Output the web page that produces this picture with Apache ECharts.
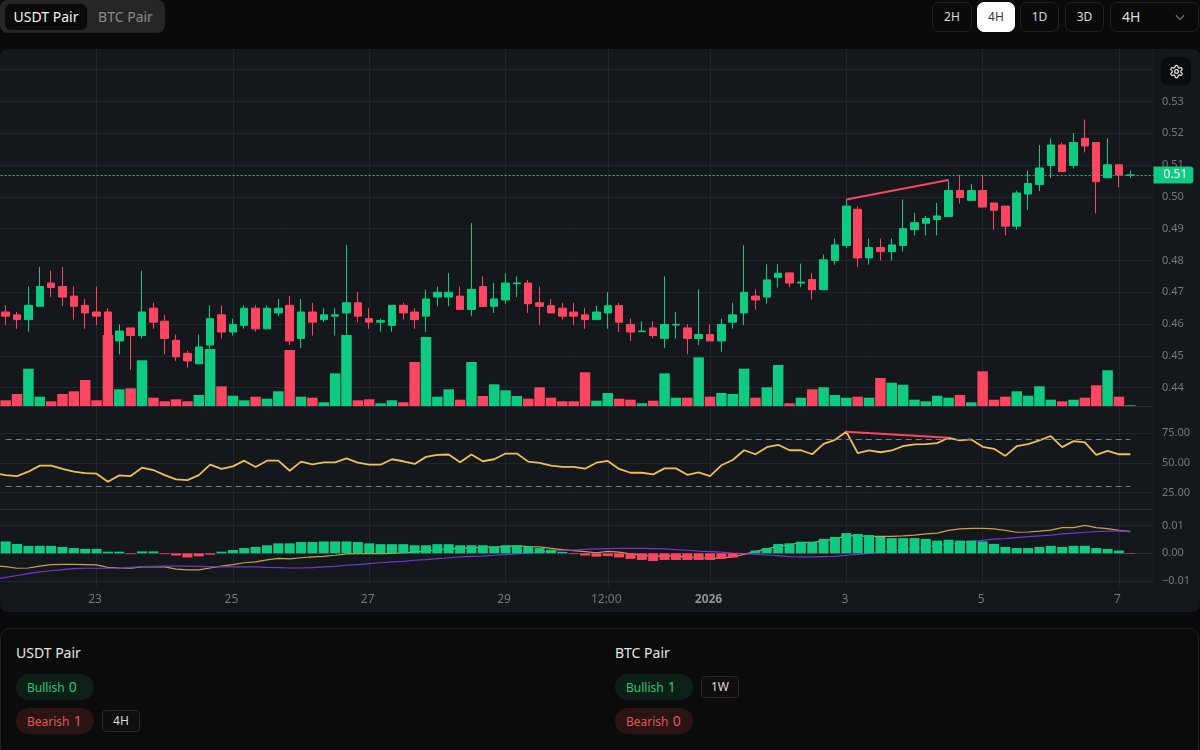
<!DOCTYPE html>
<html>
<head>
<meta charset="utf-8">
<title>USDT Pair</title>
<script src="https://cdn.jsdelivr.net/npm/echarts@6/dist/echarts.min.js"></script>
<style>
html, body { margin: 0; padding: 0; width: 1200px; height: 750px; overflow: hidden; background: #0a0a0a; font-family: "Noto Sans", sans-serif; color: #e8e8e8; }
.abs { position: absolute; box-sizing: border-box; }
#pair-tabs { left: 0; top: 0; width: 165px; height: 33px; background: #262626; border-radius: 8px; }
.tab { position: absolute; top: 4px; height: 26px; line-height: 26px; font-size: 14px; text-align: center; border-radius: 6px; }
.tf { top: 2px; height: 30px; line-height: 28px; font-size: 12px; text-align: center; border: 1px solid #222; border-radius: 7px; color: #dcdcdc; }
.tf.on { background: #fff; color: #333; border-color: #fff; }
#panel { left: 0; top: 49px; width: 1200px; height: 563px; background: #14171c; border-radius: 8px; overflow: hidden; }
#chart { position: absolute; left: -12px; top: 0; width: 1212px; height: 563px; }
#gear { left: 1161px; top: 57px; width: 30px; height: 28px; background: #0c0c0e; border-radius: 6px; text-align: center; padding-top: 5px; }
#card { left: 0; top: 628px; width: 1199px; height: 130px; background: #0b0b0b; border: 1px solid #222; border-radius: 10px; }
.pair-title { font-size: 14px; line-height: 20px; color: #e6e6e6; }
.pill { height: 26px; line-height: 26px; width: 78px; border-radius: 13px; font-size: 12px; padding-left: 11px; white-space: nowrap; }
.pill b { font-weight: 400; font-size: 14px; margin-left: 1px; }
.bull { background: #0d2018; color: #35c06f; }
.bear { background: #2a1414; color: #e0585e; }
.badge { height: 22px; line-height: 20px; width: 38px; border: 1px solid #2a2a2a; border-radius: 4px; font-size: 12px; text-align: center; color: #dcdcdc; background: #0e0e0e; }
</style>
</head>
<body>
<div id="pair-tabs" class="abs">
	<div class="tab" style="left:5px;width:82px;background:#0a0a0a;color:#f2f2f2;">USDT Pair</div>
	<div class="tab" style="left:89px;width:73px;color:#8a8a8a;">BTC Pair</div>
</div>
<div class="abs tf" style="left:932px;width:40px;">2H</div>
<div class="abs tf on" style="left:977px;width:38px;">4H</div>
<div class="abs tf" style="left:1020px;width:39px;">1D</div>
<div class="abs tf" style="left:1065px;width:39px;">3D</div>
<div class="abs tf" style="left:1110px;width:89px;font-size:14px;text-align:left;padding-left:11px;">4H
	<svg style="position:absolute;left:62px;top:7px;" width="14" height="14" viewBox="0 0 24 24" fill="none" stroke="#777" stroke-width="2"><path d="M5 9l7 7 7-7"/></svg>
</div>
<div id="panel" class="abs"><div id="chart"></div></div>
<div id="gear" class="abs">
	<svg width="15" height="15" viewBox="0 0 24 24" fill="none" stroke="#e8e8e8" stroke-width="2"><path d="M12.22 2h-.44a2 2 0 0 0-2 2v.18a2 2 0 0 1-1 1.73l-.43.25a2 2 0 0 1-2 0l-.15-.08a2 2 0 0 0-2.73.73l-.22.38a2 2 0 0 0 .73 2.73l.15.1a2 2 0 0 1 1 1.72v.51a2 2 0 0 1-1 1.74l-.15.09a2 2 0 0 0-.73 2.73l.22.38a2 2 0 0 0 2.73.73l.15-.08a2 2 0 0 1 2 0l.43.25a2 2 0 0 1 1 1.73V20a2 2 0 0 0 2 2h.44a2 2 0 0 0 2-2v-.18a2 2 0 0 1 1-1.73l.43-.25a2 2 0 0 1 2 0l.15.08a2 2 0 0 0 2.73-.73l.22-.39a2 2 0 0 0-.73-2.73l-.15-.08a2 2 0 0 1-1-1.74v-.5a2 2 0 0 1 1-1.74l.15-.09a2 2 0 0 0 .73-2.73l-.22-.38a2 2 0 0 0-2.73-.73l-.15.08a2 2 0 0 1-2 0l-.43-.25a2 2 0 0 1-1-1.73V4a2 2 0 0 0-2-2z"/><circle cx="12" cy="12" r="3"/></svg>
</div>
<div id="card" class="abs"></div>
<div class="abs pair-title" style="left:16px;top:643px;">USDT Pair</div>
<div class="abs pill bull" style="left:16px;top:674px;">Bullish <b>0</b></div>
<div class="abs pill bear" style="left:16px;top:708px;">Bearish <b>1</b></div>
<div class="abs badge" style="left:102px;top:710px;">4H</div>
<div class="abs pair-title" style="left:615px;top:643px;">BTC Pair</div>
<div class="abs pill bull" style="left:615px;top:674px;">Bullish <b>1</b></div>
<div class="abs badge" style="left:701px;top:676px;">1W</div>
<div class="abs pill bear" style="left:615px;top:708px;">Bearish <b>0</b></div>
<script>
// 4H candles, first one is 12-21 16:00
var opens = [.4638,.4629,.4614,.4656,.4729,.4718,.4688,.4659,.4638,.4638,
	.4547,.4588,.4564,.4650,.4609,.4549,.4508,.4475,.4534,.4629,
	.4575,.4596,.4650,.4585,.4635,.4659,.4555,.4638,.4614,.4625,
	.4635,.4667,.4617,.4606,.4596,.4659,.4638,.4625,.4685,.4685,
	.4688,.4646,.4718,.4656,.4676,.4727,.4729,.4667,.4658,.4650,
	.4638,.4629,.4614,.4635,.4658,.4599,.4576,.4588,.4555,.4597,
	.4588,.4555,.4567,.4547,.4606,.4635,.4688,.4685,.4747,.4761,
	.4729,.4740,.4708,.4800,.4847,.4961,.4808,.4841,.4828,.4847,
	.4897,.4917,.4929,.4938,.5020,.4989,.5020,.4981,.4971,.4908,
	.5009,.5039,.5099,.5163,.5099,.5184,.5171,.5060,.5101,.5068];
var closes = [.4625,.4614,.4659,.4718,.4715,.4685,.4656,.4635,.4625,.4563,
	.4578,.4564,.4638,.4606,.4555,.4497,.4484,.4528,.4617,.4575,
	.4599,.4650,.4585,.4650,.4650,.4547,.4638,.4606,.4629,.4629,
	.4667,.4625,.4606,.4611,.4659,.4635,.4614,.4679,.4700,.4700,
	.4646,.4709,.4655,.4679,.4729,.4729,.4664,.4656,.4635,.4625,
	.4625,.4614,.4638,.4658,.4606,.4575,.4578,.4564,.4599,.4599,
	.4555,.4567,.4547,.4599,.4629,.4700,.4676,.4739,.4760,.4729,
	.4732,.4708,.4802,.4849,.4971,.4808,.4841,.4828,.4849,.4900,
	.4919,.4932,.4940,.5020,.4998,.5020,.4968,.4958,.4908,.5012,
	.5042,.5091,.5163,.5080,.5171,.5160,.5048,.5101,.5069,.5069];
var lows = [.4597,.4585,.4576,.4656,.4685,.4656,.4614,.4585,.4597,.4563,
	.4505,.4456,.4555,.4585,.4505,.4484,.4463,.4475,.4523,.4555,
	.4564,.4585,.4576,.4585,.4625,.4534,.4525,.4564,.4606,.4564,
	.4567,.4606,.4585,.4576,.4576,.4614,.4585,.4575,.4656,.4656,
	.4646,.4625,.4655,.4635,.4664,.4685,.4635,.4597,.4635,.4614,
	.4597,.4585,.4614,.4585,.4575,.4547,.4576,.4555,.4525,.4555,
	.4505,.4534,.4547,.4513,.4585,.4597,.4646,.4664,.4715,.4716,
	.4716,.4677,.4708,.4787,.4839,.4779,.4787,.4800,.4800,.4828,
	.4879,.4879,.4879,.4938,.4979,.4989,.4968,.4897,.4879,.4897,
	.4958,.5018,.5059,.5080,.5089,.5140,.4948,.5060,.5030,.5060];
var highs = [.4659,.4638,.4718,.4780,.4768,.4780,.4718,.4679,.4718,.4650,
	.4599,.4588,.4768,.4667,.4629,.4567,.4516,.4567,.4659,.4659,
	.4617,.4659,.4659,.4659,.4679,.4688,.4679,.4667,.4650,.4650,
	.4849,.4700,.4650,.4617,.4659,.4667,.4650,.4709,.4718,.4760,
	.4718,.4918,.4750,.4729,.4760,.4750,.4739,.4718,.4679,.4667,
	.4667,.4650,.4658,.4700,.4667,.4617,.4609,.4609,.4750,.4638,
	.4599,.4709,.4599,.4617,.4667,.4848,.4709,.4788,.4788,.4761,
	.4790,.4761,.4819,.4869,.4992,.4970,.4869,.4869,.4869,.4992,
	.4950,.4940,.4981,.5051,.5069,.5041,.5069,.4981,.4971,.5020,
	.5083,.5163,.5184,.5171,.5201,.5243,.5171,.5184,.5101,.5083];
var volumes = [5.7,12,37.3,9.3,4.7,12,14.7,26,5.7,71,
	16.7,17.7,45.7,8.3,4.7,6.7,4.7,11,57,19.7,
	10.3,5.7,9.3,7.3,14.7,56,9.3,8.3,3.7,32.7,
	71,5.7,6.7,2.7,5.7,3.7,44,69,9.3,16.7,
	6.3,44,10,21.7,15.7,10,7.3,18.7,8.3,4.7,
	4.7,33.7,5.3,13,7.3,6.3,2.7,5.3,32.7,8.3,
	8.3,48.7,9.3,13,12,37.3,8.3,18.7,41,2.7,
	8.3,16.7,18.7,11,8.3,9.3,8.3,28,23.3,21.3,
	6.3,4.7,10.3,8.3,11,3.7,34.7,6.3,9.3,14.7,
	10.3,19.7,6.3,4.7,6.3,8.3,20.7,35.7,9.3,0.7];
// rsi, macd and signal start one bar before the first candle, off the left edge
var rsiValues = [41.3,39.6,38.8,42.5,47.6,47.6,44.8,42.5,41.3,40.8,34.0,
	39.4,38.8,45.9,43.9,39.6,36.0,35.4,39.6,48.4,44.8,
	47.0,51.8,46.5,51.8,51.8,43.3,51.0,48.7,50.4,50.4,
	53.8,50.1,48.4,48.4,53.0,51.3,49.0,55.0,56.7,57.0,
	50.4,57.0,51.3,53.0,57.8,57.8,51.0,49.9,47.6,46.5,
	46.5,45.0,50.1,51.6,44.8,41.6,41.6,40.2,45.3,45.3,
	39.9,41.9,38.8,47.9,52.4,60.6,57.2,63.2,65.2,60.6,
	60.6,57.2,66.0,69.4,76.2,58.1,60.4,58.9,60.4,64.0,
	65.5,65.7,66.6,71.1,68.9,69.7,63.5,61.8,55.8,64.0,
	65.7,68.9,72.6,63.2,68.3,67.2,56.7,60.1,57.2,57.2];
var macdValues = [-.0045,-.0048,-.0054,-.0053,-.0046,-.0041,-.0040,-.0040,-.0041,-.0042,-.0051,
	-.0053,-.0054,-.0049,-.0048,-.0049,-.0057,-.0060,-.0060,-.0053,-.0046,
	-.0041,-.0034,-.0031,-.0024,-.0018,-.0020,-.0016,-.0013,-.0011,-.0007,
	-.0002,-.0001,-.0001,-.0001,0,.0002,.0004,.0008,.0012,.0016,
	.0018,.0020,.0022,.0022,.0024,.0027,.0024,.0023,.0018,.0013,
	.0010,.0006,.0002,.0007,.0004,-.0002,-.0006,-.0011,-.0008,-.0011,
	-.0013,-.0016,-.0018,-.0017,-.0013,-.0004,.0006,.0016,.0025,.0031,
	.0039,.0039,.0045,.0051,.0064,.0063,.0061,.0061,.0061,.0063,
	.0066,.0070,.0073,.0083,.0088,.0090,.0090,.0088,.0083,.0076,
	.0077,.0080,.0084,.0093,.0093,.0101,.0093,.0089,.0083,.0078];
var signalValues = [-.0094,-.0087,-.0080,-.0073,-.0067,-.0063,-.0059,-.0055,-.0054,-.0054,-.0054,
	-.0053,-.0051,-.0048,-.0047,-.0046,-.0046,-.0046,-.0047,-.0048,-.0049,
	-.0049,-.0049,-.0049,-.0051,-.0052,-.0053,-.0053,-.0052,-.0049,-.0047,
	-.0043,-.0041,-.0037,-.0034,-.0031,-.0029,-.0025,-.0023,-.0019,-.0016,
	-.0013,-.0011,-.0010,-.0007,-.0005,-.0002,.0001,.0005,.0007,.0010,
	.0012,.0014,.0016,.0017,.0018,.0018,.0018,.0017,.0016,.0013,
	.0011,.0008,.0006,.0004,.0001,-.0001,-.0004,-.0006,-.0008,-.0012,
	-.0013,-.0013,-.0012,-.0011,-.0007,-.0004,0,.0004,.0008,.0013,
	.0018,.0023,.0028,.0033,.0037,.0042,.0047,.0051,.0053,.0057,
	.0060,.0063,.0066,.0070,.0073,.0076,.0078,.0080,.0080,.0080];
var histValues = [.0043,.0034,.0027,.0027,.0027,.0023,.0019,.0016,.0016,.0006,
	.0006,-.0003,.0007,.0007,-.0003,-.0008,-.0015,-.0011,-.0005,.0006,
	.0012,.0019,.0023,.0029,.0036,.0036,.0041,.0041,.0043,.0043,
	.0043,.0041,.0036,.0033,.0033,.0033,.0029,.0029,.0033,.0033,
	.0029,.0029,.0029,.0025,.0029,.0029,.0025,.0019,.0013,.0005,
	-.0003,-.0008,-.0012,-.0010,-.0015,-.0020,-.0024,-.0028,-.0024,-.0024,
	-.0024,-.0024,-.0024,-.0020,-.0015,-.0002,.0010,.0019,.0034,.0036,
	.0042,.0042,.0052,.0059,.0073,.0070,.0066,.0059,.0055,.0055,
	.0055,.0052,.0046,.0049,.0046,.0046,.0043,.0034,.0023,.0019,
	.0019,.0023,.0027,.0023,.0027,.0027,.0019,.0016,.0010,-.0002];
var rsiLevels = [70, 30];
var priceTicks = [.44,.45,.46,.47,.48,.49,.50,.51,.52,.53,.54];
var priceLabels = [.44,.45,.46,.47,.48,.49,.50,.51,.52,.53];
var rsiTicks = [25, 50, 75];
var macdTicks = [-.01, 0, .01];
var dateTicks = ['12-23 00:00','12-25 00:00','12-27 00:00','12-29 00:00','12-30 12:00','01-01 00:00','01-03 00:00','01-05 00:00','01-07 00:00'];
var dateTexts = ['23','25','27','29','12:00','{b|2026}','3','5','7'];
// bearish divergence, from candle 74 to candle 83
var divergenceStart = 74;
var divergenceEnd = 83;
var lastPrice = .5069;

var UP = '#0ecb81', DOWN = '#fb4661', GRID = '#22252b', EDGE = '#2a2d33', TEXT = '#75787f';
var BAND = 11.36;

// one hidden slot on the left for the off-screen bar, two free slots on the right
var categories = [];
var slot = Date.UTC(2025, 11, 21, 12);
for (var i = 0; i < 103; i++) {
	var d = new Date(slot + i * 4 * 3600000);
	categories.push(pad(d.getUTCMonth() + 1) + '-' + pad(d.getUTCDate()) + ' ' + pad(d.getUTCHours()) + ':00');
}

function pad(n) {
	return (n < 10 ? '0' : '') + n;
}

function isDateTick(idx) {
	return dateTicks.indexOf(categories[idx]) >= 0;
}

function isUp(i) {
	return closes[i] >= opens[i];
}

var candleRows = ['-'];
var volumeRows = ['-'];
var histRows = ['-'];
for (var k = 0; k < opens.length; k++) {
	candleRows.push([opens[k], closes[k], lows[k], highs[k]]);
	volumeRows.push({ value: volumes[k], itemStyle: { color: isUp(k) ? UP : DOWN } });
	histRows.push({ value: histValues[k], itemStyle: { color: histValues[k] >= 0 ? UP : DOWN } });
}

function xAxisFor(gridIndex, withLabels) {
	return {
		type: 'category',
		gridIndex: gridIndex,
		data: categories,
		axisLine: { show: true, lineStyle: { color: EDGE, width: 1 } },
		axisTick: { show: false },
		splitLine: { show: true, alignWithLabel: true, interval: isDateTick, lineStyle: { color: GRID, width: 1 } },
		axisLabel: {
			show: withLabels,
			interval: isDateTick,
			color: TEXT,
			fontSize: 12,
			margin: 8,
			padding: [0, 3, 0, 0],
			formatter: function (value) {
				return dateTexts[dateTicks.indexOf(value)];
			},
			rich: { b: { fontWeight: 'bold', color: '#8f9298', fontSize: 12 } }
		}
	};
}

function yAxisFor(gridIndex, min, max, ticks, labels, digits) {
	return {
		type: 'value',
		gridIndex: gridIndex,
		position: 'right',
		offset: -5.68,
		min: min,
		max: max,
		axisLine: { show: true, lineStyle: { color: EDGE, width: 1 } },
		axisTick: { show: false, customValues: ticks },
		splitLine: { show: true, lineStyle: { color: GRID, width: 1 } },
		axisLabel: {
			color: TEXT,
			fontSize: 11,
			margin: 9,
			padding: [3, 0, 0, 0],
			customValues: labels,
			formatter: function (value) {
				return value.toFixed(digits).replace('-', '−');
			}
		}
	};
}

var chart = echarts.init(document.getElementById('chart'));
chart.setOption({
	animation: false,
	backgroundColor: 'transparent',
	textStyle: { fontFamily: '"Noto Sans", sans-serif' },
	grid: [
		{ left: 0.64, width: BAND * 103, top: 0, height: 357 },
		{ left: 0.64, width: BAND * 103, top: 358, height: 102 },
		{ left: 0.64, width: BAND * 103, top: 460, height: 77 }
	],
	xAxis: [xAxisFor(0, false), xAxisFor(1, false), xAxisFor(2, true)],
	yAxis: [
		yAxisFor(0, .43424, .5465, priceTicks, priceLabels, 2),
		{ type: 'value', gridIndex: 0, min: 0, max: 357, show: false },
		yAxisFor(1, 11, 97.1, rsiTicks, rsiTicks, 2),
		yAxisFor(2, -.0118, .016, macdTicks, macdTicks, 2)
	],
	// the last two slots run a little past the price scale, hide the grid ends there
	graphic: [{
		type: 'rect',
		z: 1,
		shape: { x: 1165.5, y: 0, width: 7, height: 538 },
		style: { fill: '#14171c' }
	}],
	series: [
		{
			name: 'Volume',
			type: 'bar',
			xAxisIndex: 0,
			yAxisIndex: 1,
			barWidth: 10.5,
			data: volumeRows,
			z: 2
		},
		{
			name: 'Price',
			type: 'candlestick',
			xAxisIndex: 0,
			yAxisIndex: 0,
			barWidth: 8,
			data: candleRows,
			z: 3,
			itemStyle: { color: UP, color0: DOWN, borderColor: UP, borderColor0: DOWN, borderWidth: 1 },
			markLine: {
				silent: true,
				symbol: 'none',
				animation: false,
				precision: 4,
				data: [
					{
						yAxis: lastPrice,
						lineStyle: { color: UP, type: [2, 2], width: 1 },
						label: {
							show: true,
							position: 'end',
							distance: -5.2,
							formatter: lastPrice.toFixed(2),
							color: '#fff',
							fontSize: 12,
							backgroundColor: UP,
							padding: [3, 6, 2, 10],
							borderRadius: [0, 3, 3, 0]
						}
					},
					[
						{ coord: [categories[divergenceStart + 1], highs[divergenceStart]], lineStyle: { color: DOWN, width: 2, type: 'solid' }, label: { show: false } },
						{ coord: [categories[divergenceEnd + 1], .5053] }
					]
				]
			}
		},
		{
			name: 'RSI',
			type: 'line',
			xAxisIndex: 1,
			yAxisIndex: 2,
			data: rsiValues,
			showSymbol: false,
			lineStyle: { color: '#efbf55', width: 1.8 },
			markLine: {
				silent: true,
				symbol: 'none',
				animation: false,
				label: { show: false },
				data: [
					[
						{ coord: [categories[1], rsiLevels[0]], lineStyle: { color: '#7c7f85', width: 1, type: [6, 4] } },
						{ coord: [categories[100], rsiLevels[0]] }
					],
					[
						{ coord: [categories[1], rsiLevels[1]], lineStyle: { color: '#7c7f85', width: 1, type: [6, 4] } },
						{ coord: [categories[100], rsiLevels[1]] }
					],
					[
						{ coord: [categories[divergenceStart + 1], rsiValues[divergenceStart + 1]], lineStyle: { color: DOWN, width: 2, type: 'solid' } },
						{ coord: [categories[divergenceEnd + 1], rsiValues[divergenceEnd + 1]] }
					]
				]
			}
		},
		{
			name: 'MACD',
			type: 'line',
			xAxisIndex: 2,
			yAxisIndex: 3,
			data: macdValues,
			showSymbol: false,
			z: 1,
			lineStyle: { color: '#c9a24a', width: 1.2 }
		},
		{
			name: 'Signal',
			type: 'line',
			xAxisIndex: 2,
			yAxisIndex: 3,
			data: signalValues,
			showSymbol: false,
			z: 1,
			lineStyle: { color: '#7434d6', width: 1.2 }
		},
		{
			name: 'Histogram',
			type: 'bar',
			xAxisIndex: 2,
			yAxisIndex: 3,
			barWidth: 10,
			data: histRows,
			z: 2
		}
	]
});
</script>
</body>
</html>
